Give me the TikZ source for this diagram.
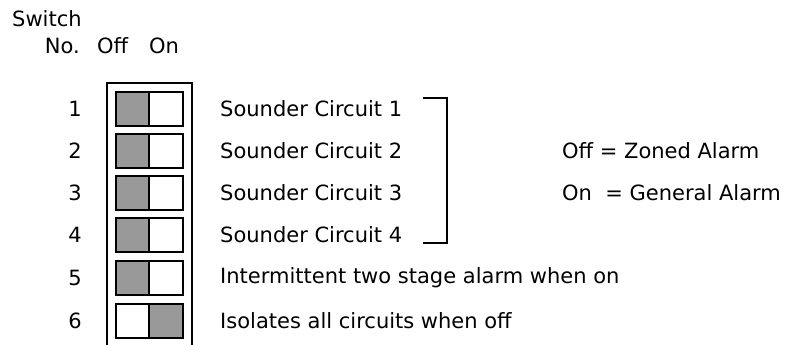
\documentclass[tikz,border=0pt]{standalone}
\usepackage{fontspec}
\setmainfont{DejaVu Sans}
\usetikzlibrary{positioning}
\definecolor{swgray}{HTML}{999999}

\begin{document}
\begin{tikzpicture}[x=1pt,y=-1pt,
  every node/.style={inner sep=0pt,font=\fontsize{21}{25}\selectfont},
  lbl/.style={anchor=west},
  off/.style={draw,line width=1.3pt,fill=swgray},
  on/.style={draw,line width=1.3pt,fill=white}]
  \useasboundingbox (0,0) rectangle (787,345);
% Header
  \node[lbl] (switch) at (12,19) {Switch};
  \node[anchor=east] (no) at (80,46) {No.};
  \node[lbl] (offon) at (97,46) {Off\hspace{21pt}On};
% Outer frame (open at the bottom)
  \draw[line width=1.3pt] (107,345) -- (107,83) -- (192,83) -- (192,345);
% Switch no1
  \node (n1) at (75,109) {1};
  \draw[off] (116,92) rectangle +(33,34);
  \draw[on] (149,92) rectangle +(34,34);
  \node[lbl] (t1) at (220,109) {Sounder Circuit 1};
% Switch no2
  \node (n2) at (75,151) {2};
  \draw[off] (116,134) rectangle +(33,34);
  \draw[on] (149,134) rectangle +(34,34);
  \node[lbl] (t2) at (220,151) {Sounder Circuit 2};
% Switch no3
  \node (n3) at (75,193) {3};
  \draw[off] (116,176) rectangle +(33,34);
  \draw[on] (149,176) rectangle +(34,34);
  \node[lbl] (t3) at (220,193) {Sounder Circuit 3};
% Switch no4
  \node (n4) at (75,235) {4};
  \draw[off] (116,218) rectangle +(33,34);
  \draw[on] (149,218) rectangle +(34,34);
  \node[lbl] (t4) at (220,235) {Sounder Circuit 4};
% Switch no5
  \node (n5) at (75,278) {5};
  \draw[off] (116,261) rectangle +(33,34);
  \draw[on] (149,261) rectangle +(34,34);
  \node[lbl] (t5) at (220,278) {Intermittent two stage alarm when on};
% Switch no6
  \node (n6) at (75,321) {6};
  \draw[on] (116,304) rectangle +(33,34);
  \draw[off] (149,304) rectangle +(34,34);
  \node[lbl] (t6) at (220,321) {Isolates all circuits when off};
% Bracket round sounder circuits
  \draw[line width=1.3pt] (423,98) -- (447,98) -- (447,243) -- (423,243);
% Bracket annotation
  \node[lbl] (zoned) at (562,151) {Off = Zoned Alarm};
  \node[lbl] (general) at (562,193) {On \ = General Alarm};
\end{tikzpicture}
\end{document}
